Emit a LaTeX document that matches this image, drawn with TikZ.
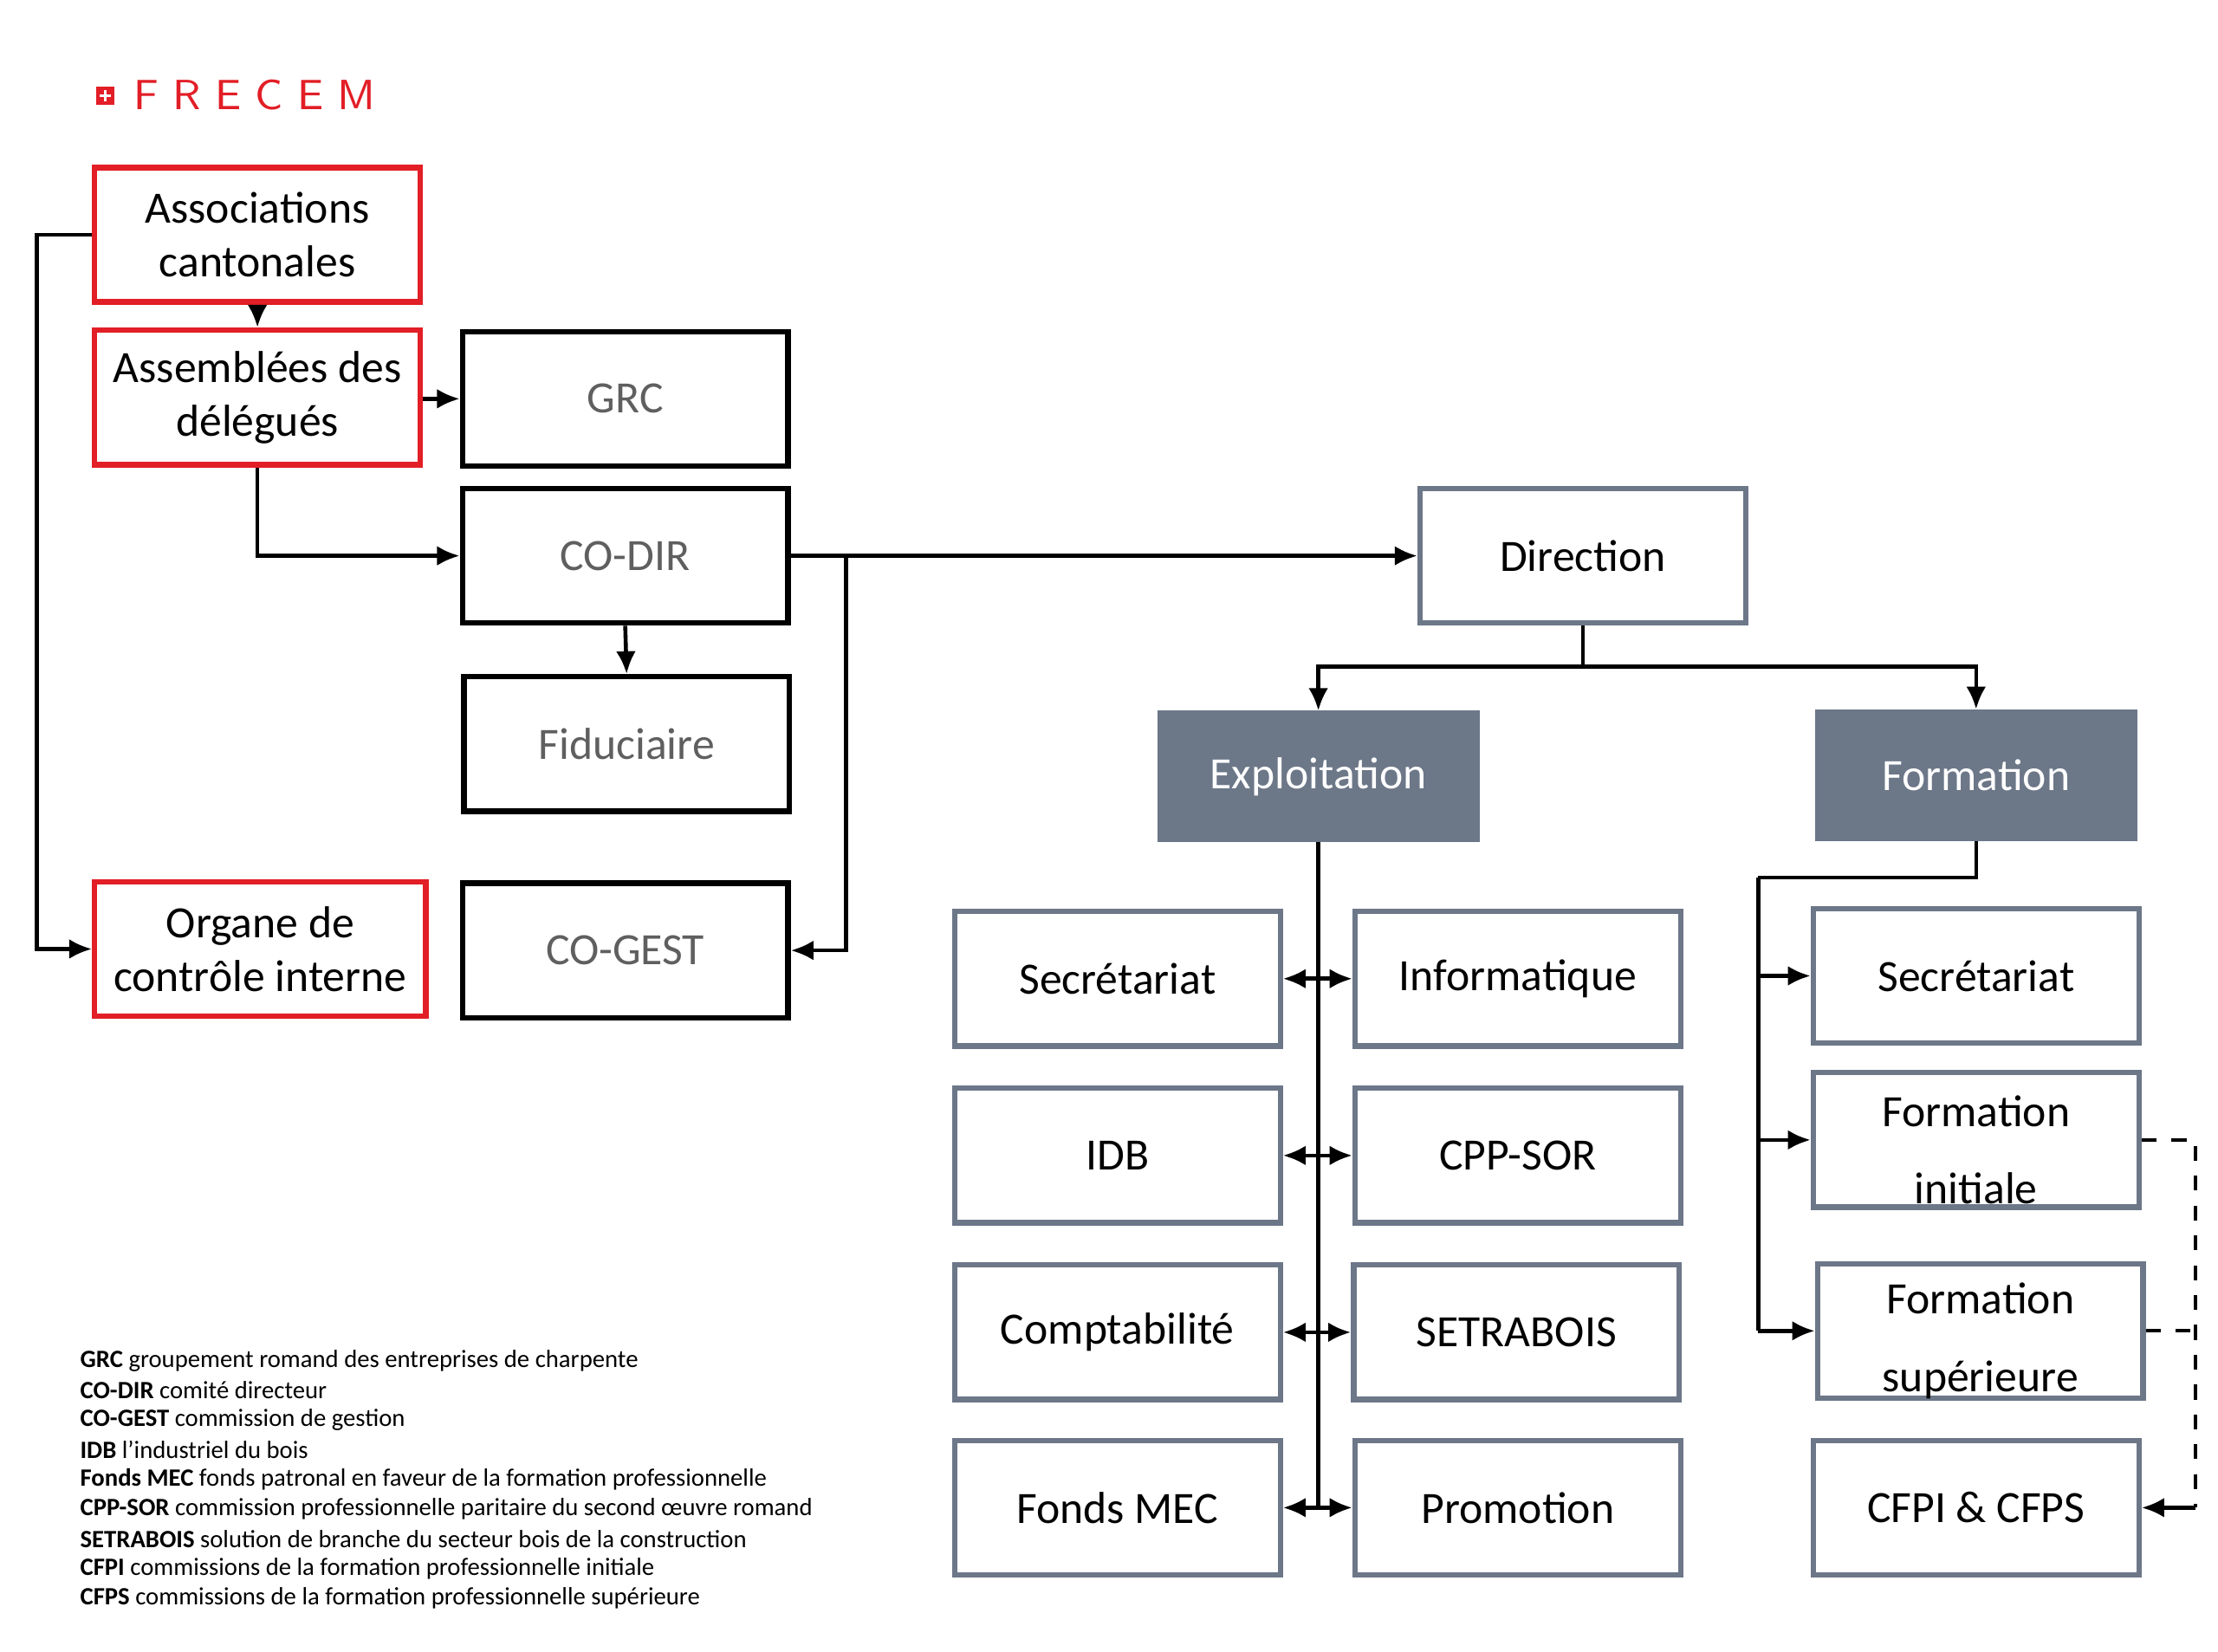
\documentclass[tikz,border=0pt]{standalone}
\usepackage{fontspec}
\setmainfont{Carlito}
\usetikzlibrary{arrows.meta, positioning, calc}
\definecolor{frred}{RGB}{226,30,38}
\definecolor{frgray}{RGB}{108,119,136}
\definecolor{frtext}{RGB}{95,95,95}

\begin{document}
\begin{tikzpicture}[
      x=0.01cm, y=-0.01cm,
      box/.style={rectangle, draw, line width=1.1pt, inner sep=0pt,
        minimum width=2.3cm, minimum height=0.95cm, align=center,
        font=\fontsize{9}{10.8}\selectfont},
      redbox/.style={box, draw=frred},
      blackbox/.style={box, draw=black, text=frtext},
      graybox/.style={box, draw=frgray},
      tallbox/.style={graybox, font=\fontsize{9}{15.6}\selectfont},
      filledbox/.style={box, draw=frgray, fill=frgray, text=white,
        minimum width=2.24cm, minimum height=0.89cm},
      arrow/.style={-{Latex[length=1.6mm, width=1.4mm]}, line width=0.8pt},
      darrow/.style={{Latex[length=1.6mm, width=1.4mm]}-{Latex[length=1.6mm, width=1.4mm]}, line width=0.8pt},
      dasharrow/.style={line width=0.7pt, dashed},
      legend/.style={anchor=west, inner sep=0pt, font=\fontsize{5}{6}\selectfont}
    ]
      \useasboundingbox (0,0) rectangle (1568,1168);

      % Logo
      \node[anchor=west, inner sep=0pt, text=frred, font=\fontsize{8.5}{10}\selectfont\sffamily]
        (logo) at (94,67) {F\,\,R\,\,E\,\,C\,\,E\,\,M};
      \fill[frred] (68,61) rectangle (81,74);
      \fill[white] (73.5,63.5) rectangle (75.5,71.5);
      \fill[white] (70.5,66.5) rectangle (78.5,68.5);

      % Governance
      \node[redbox] (assoc) at (182,166) {Associations\\cantonales};
      \node[redbox] (assemb) at (182,281) {Assemblées des\\délégués};
      \node[redbox, minimum width=2.34cm] (organe) at (184,671) {Organe de\\contrôle interne};
      \node[blackbox] (grc) at (442,282) {GRC};
      \node[blackbox] (codir) at (442,393) {CO-DIR};
      \node[blackbox] (fidu) at (443,526) {Fiduciaire};
      \node[blackbox] (cogest) at (442,672) {CO-GEST};

      % Direction
      \node[graybox] (direction) at (1119,393) {Direction};
      \node[filledbox] (exploit) at (932,549) {Exploitation};
      \node[filledbox] (formation) at (1397,548) {Formation};

      % Exploitation
      \node[graybox] (secr) at (790,692) {Secrétariat};
      \node[graybox] (info) at (1073,692) {Informatique};
      \node[graybox] (idb) at (790,817) {IDB};
      \node[graybox] (cppsor) at (1073,817) {CPP-SOR};
      \node[graybox] (compta) at (790,942) {Comptabilité};
      \node[graybox] (setra) at (1072,942) {SETRABOIS};
      \node[graybox] (fonds) at (790,1066) {Fonds MEC};
      \node[graybox] (promo) at (1073,1066) {Promotion};

      % Formation
      \node[graybox] (fsecr) at (1397,690) {Secrétariat};
      \node[tallbox] (finit) at (1397,806) {};
      \node[inner sep=0pt, align=center, font=\fontsize{9}{15.6}\selectfont]
        (finittext) at (1397,813) {Formation\\initiale};
      \node[tallbox] (fsup) at (1400,941) {};
      \node[inner sep=0pt, align=center, font=\fontsize{9}{15.6}\selectfont]
        (fsuptext) at (1400,948) {Formation\\supérieure};
      \node[graybox] (cfpi) at (1397,1066) {CFPI \& CFPS};

      % Connectors
      \draw[arrow] (assoc.west) -- ++(-39,0) |- (organe.west);
      \draw[arrow] (assoc.south) -- (assemb.north);
      \draw[arrow] (assemb.east |- grc.west) -- (grc.west);
      \draw[arrow] (assemb.south) |- (codir.west);
      \draw[arrow] (codir.east) -- (direction.west);
      \draw[arrow] ($(codir.east)+(39,0)$) |- (cogest.east);
      \draw[arrow] (codir.south) -- (fidu.north);

      \draw[line width=0.8pt] (direction.south) -- ++(0,29) coordinate (dsplit);
      \draw[arrow] (dsplit) -| (exploit.north);
      \draw[arrow] (dsplit) -| (formation.north);

      \draw[line width=0.8pt] (exploit.south) -- (exploit.south |- fonds.east);
      \foreach \a/\b in {secr/info, idb/cppsor, compta/setra, fonds/promo}
        \draw[darrow] (\a.east) -- (\b.west);

      \draw[line width=0.8pt] (formation.south) -- ++(0,26) -| ++(-154,0) coordinate (fline);
      \draw[line width=0.8pt] (fline) -- (fline |- fsup.west);
      \foreach \n in {fsecr, finit, fsup}
        \draw[arrow] (fline |- \n.west) -- (\n.west);

      \draw[dasharrow] (finit.east) -- ++(38,0) coordinate (dtop) -- (dtop |- cfpi.east);
      \draw[dasharrow] (fsup.east) -- (dtop |- fsup.east);
      \draw[arrow] (dtop |- cfpi.east) -- (cfpi.east);

      % Legend
      \node[legend] (l1) at (56,962) {\textbf{GRC} groupement romand des entreprises de charpente};
      \node[legend] (l2) at (56,983) {\textbf{CO-DIR} comité directeur};
      \node[legend] (l3) at (56,1004) {\textbf{CO-GEST} commission de gestion};
      \node[legend] (l4) at (56,1025) {\textbf{IDB} l’industriel du bois};
      \node[legend] (l5) at (56,1046) {\textbf{Fonds MEC} fonds patronal en faveur de la formation professionnelle};
      \node[legend] (l6) at (56,1067) {\textbf{CPP-SOR} commission professionnelle paritaire du second œuvre romand};
      \node[legend] (l7) at (56,1088) {\textbf{SETRABOIS} solution de branche du secteur bois de la construction};
      \node[legend] (l8) at (56,1109) {\textbf{CFPI} commissions de la formation professionnelle initiale};
      \node[legend] (l9) at (56,1130) {\textbf{CFPS} commissions de la formation professionnelle supérieure};
    \end{tikzpicture}
\end{document}
